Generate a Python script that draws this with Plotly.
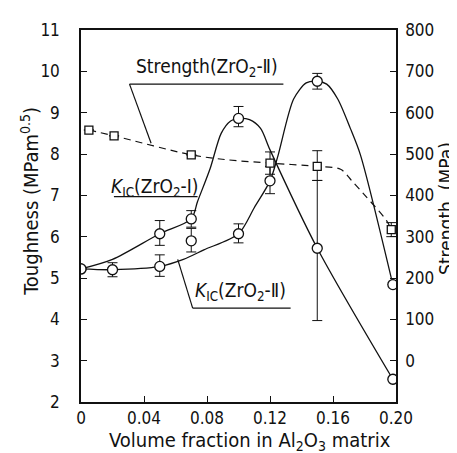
import plotly.graph_objects as go

# ---- data ----
# K_IC (ZrO2-I) measured points
k1_x = [0.0, 0.05, 0.07, 0.10, 0.15, 0.198]
k1_y = [5.22, 6.07, 6.43, 8.86, 5.72, 2.55]
k1_ep = [0, 0.32, 0.20, 0.29, 1.64, 0]
k1_em = [0, 0.28, 0.20, 0.20, 1.75, 0]
# K_IC (ZrO2-I) hand-drawn fit curve
k1c_x = [0.0, 0.02, 0.05, 0.07, 0.074, 0.082, 0.089, 0.095, 0.10, 0.107, 0.114, 0.12, 0.15, 0.198]
k1c_y = [5.22, 5.45, 6.07, 6.43, 6.85, 7.65, 8.5, 8.8, 8.86, 8.83, 8.62, 8.1, 5.72, 2.55]

# K_IC (ZrO2-II) measured points
k2_x = [0.0, 0.02, 0.05, 0.07, 0.10, 0.12, 0.15, 0.198]
k2_y = [5.22, 5.20, 5.28, 5.90, 6.07, 7.35, 9.76, 4.84]
k2_ep = [0, 0.17, 0.28, 0.30, 0.24, 0.35, 0.19, 0]
k2_em = [0, 0.17, 0.24, 0.27, 0.22, 0.31, 0.19, 0]
# K_IC (ZrO2-II) hand-drawn fit curve
k2c_x = [0.0, 0.02, 0.05, 0.065, 0.078, 0.10, 0.11, 0.12, 0.125, 0.135, 0.143, 0.15, 0.156, 0.163, 0.171, 0.1774, 0.198]
k2c_y = [5.22, 5.20, 5.28, 5.45, 5.68, 6.07, 6.70, 7.35, 7.95, 9.33, 9.72, 9.76, 9.69, 9.33, 8.62, 7.98, 4.84]

# Strength (ZrO2-II) measured points (MPa)
s_x = [0.005, 0.021, 0.07, 0.12, 0.15, 0.197]
s_y = [558, 544, 498, 478, 470, 317]
s_ep = [0, 0, 0, 27, 38, 17]
s_em = [0, 0, 0, 27, 34, 17]
# Strength fit curve
sc_x = [0.005, 0.021, 0.07, 0.093, 0.12, 0.15, 0.1648, 0.172, 0.1796, 0.194, 0.197]
sc_y = [558, 544, 498, 486, 478, 470, 463, 435, 403, 339, 317]

x_ticks = [0, 0.04, 0.08, 0.12, 0.16, 0.20]
x_ticktext = ["0", "0.04", "0.08", "0.12", "0.16", "0.20"]
y_ticks = [2, 3, 4, 5, 6, 7, 8, 9, 10, 11]
y2_ticks = [0, 100, 200, 300, 400, 500, 600, 700, 800]

FONT = "DejaVu Sans Condensed, Liberation Sans Narrow, DejaVu Sans, sans-serif"
INK = "#111111"

fig = go.Figure()

# curves
fig.add_trace(go.Scatter(x=k1c_x, y=k1c_y, mode="lines", line=dict(color=INK, width=1.3, shape="spline", smoothing=0.8), hoverinfo="skip"))
fig.add_trace(go.Scatter(x=k2c_x, y=k2c_y, mode="lines", line=dict(color=INK, width=1.3, shape="spline", smoothing=0.8), hoverinfo="skip"))
fig.add_trace(go.Scatter(x=sc_x, y=sc_y, yaxis="y2", mode="lines",
                         line=dict(color=INK, width=1.2, dash="7px,5px", shape="spline", smoothing=0.9), hoverinfo="skip"))

# markers
fig.add_trace(go.Scatter(x=s_x, y=s_y, yaxis="y2", mode="markers",
                         marker=dict(symbol="square", size=8, color="white", line=dict(color=INK, width=1.3)),
                         error_y=dict(type="data", symmetric=False, array=s_ep, arrayminus=s_em, color=INK, thickness=1, width=5)))
fig.add_trace(go.Scatter(x=k1_x, y=k1_y, mode="markers",
                         marker=dict(symbol="circle", size=10, color="white", line=dict(color=INK, width=1.3)),
                         error_y=dict(type="data", symmetric=False, array=k1_ep, arrayminus=k1_em, color=INK, thickness=1, width=5)))
fig.add_trace(go.Scatter(x=k2_x, y=k2_y, mode="markers",
                         marker=dict(symbol="circle", size=10, color="white", line=dict(color=INK, width=1.3)),
                         error_y=dict(type="data", symmetric=False, array=k2_ep, arrayminus=k2_em, color=INK, thickness=1, width=5)))

# labels (centre x, centre y) with underline + leader
labels = [
    ("Strength(ZrO<sub>2</sub>-Ⅱ)", 0.0803, 10.09, [(0.0308, 9.69), (0.1285, 9.69)], [(0.0308, 9.69), (0.0445, 8.26)]),
    ("<i>K</i><sub>IC</sub>(ZrO<sub>2</sub>-Ⅰ)", 0.0465, 7.2, [(0.0209, 6.97), (0.074, 6.97)], []),
    ("<i>K</i><sub>IC</sub>(ZrO<sub>2</sub>-Ⅱ)", 0.101, 4.68, [(0.0709, 4.27), (0.1331, 4.27)], [(0.0709, 4.27), (0.0614, 5.45)]),
]
for txt, tx, ty, ul, ld in labels:
    fig.add_annotation(x=tx, y=ty, xref="x", yref="y", text=txt, showarrow=False,
                       xanchor="center", yanchor="middle", font=dict(family=FONT, size=19, color=INK))
    for seg in (ul, ld):
        if seg:
            fig.add_shape(type="line", xref="x", yref="y", x0=seg[0][0], y0=seg[0][1], x1=seg[1][0], y1=seg[1][1],
                          line=dict(color=INK, width=1.2))

fig.update_layout(
    width=457, height=453,
    margin=dict(l=73, r=69, t=16, b=59),
    paper_bgcolor="white", plot_bgcolor="white",
    showlegend=False,
    font=dict(family=FONT, size=17, color=INK),
    xaxis=dict(range=[0, 0.2], tickvals=x_ticks, ticktext=x_ticktext, ticks="inside", ticklen=6, tickwidth=1.2,
               tickcolor=INK, showline=True, linecolor=INK, linewidth=1.5, mirror=True, showgrid=False, zeroline=False,
               ticklabelstandoff=0),
    yaxis=dict(range=[2, 11], tickvals=y_ticks, ticks="inside", ticklen=6, tickwidth=1.2, tickcolor=INK,
               showline=True, linecolor=INK, linewidth=1.5, showgrid=False, zeroline=False, ticklabelstandoff=16),
    yaxis2=dict(range=[-100, 800], tickvals=y2_ticks, overlaying="y", side="right", ticks="inside", ticklen=6,
                tickwidth=1.2, tickcolor=INK, showline=True, linecolor=INK, linewidth=1.5, showgrid=False,
                zeroline=False, ticklabelstandoff=4),
)

# axis titles
fig.add_annotation(x=-0.163, y=0.54, xref="paper", yref="paper", xanchor="center", yanchor="middle",
                   text="Toughness (MPam<sup>0.5</sup>)",
                   showarrow=False, textangle=-90, font=dict(family=FONT, size=20, color=INK))
fig.add_annotation(x=1.158, y=0.521, xref="paper", yref="paper", xanchor="center", yanchor="middle",
                   text="Strength  (MPa)",
                   showarrow=False, textangle=-90, font=dict(family=FONT, size=19, color=INK))
fig.add_annotation(x=0.535, y=-0.104, xref="paper", yref="paper", xanchor="center", yanchor="middle",
                   text="Volume fraction in Al<sub>2</sub>O<sub>3</sub> matrix",
                   showarrow=False, font=dict(family=FONT, size=20, color=INK))

fig.write_html("out.html")
